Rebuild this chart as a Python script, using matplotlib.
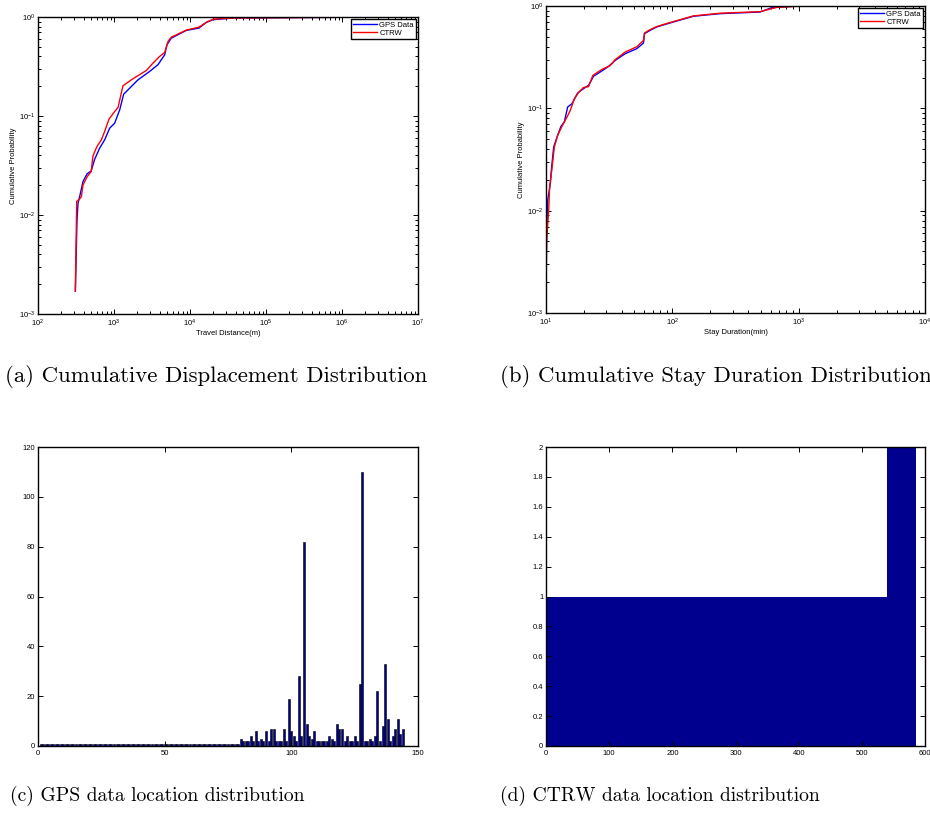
import numpy as np
import matplotlib
matplotlib.use('Agg')
import matplotlib.pyplot as plt
from matplotlib.ticker import FuncFormatter, MultipleLocator

plt.rcParams['font.family'] = ['Liberation Sans', 'DejaVu Sans']
plt.rcParams['mathtext.default'] = 'regular'

# (a) cumulative displacement distribution
dist_gps_x = [310, 326, 336, 353, 391, 442, 501, 557, 647, 753, 877, 1021, 1189,
              1340, 1607, 2070, 2944, 3793, 4645, 4977, 5675, 8954, 13122, 16406,
              20090, 36813, 3.8e6]
dist_gps_y = [0.0017, 0.0089, 0.0131, 0.0153, 0.0218, 0.026, 0.0279, 0.0366, 0.0473,
              0.0574, 0.0753, 0.0847, 0.1156, 0.166, 0.191, 0.232, 0.282, 0.33, 0.416,
              0.525, 0.612, 0.732, 0.773, 0.883, 0.94, 0.977, 1.0]
dist_ctrw_x = [310, 323, 353, 372, 391, 442, 501, 529, 597, 681, 753, 859, 1021, 1130,
               1312, 1778, 2660, 3258, 3990, 4645, 5140, 5675, 8954, 13122, 16406,
               20090, 36813, 4.0e6]
dist_ctrw_y = [0.0017, 0.0137, 0.0145, 0.0153, 0.0201, 0.0243, 0.0275, 0.0396, 0.0492,
               0.0574, 0.0697, 0.093, 0.111, 0.122, 0.202, 0.238, 0.288, 0.342, 0.4,
               0.438, 0.567, 0.625, 0.738, 0.79, 0.883, 0.95, 0.977, 1.0]

# (b) cumulative stay duration distribution
stay_gps_x = [10, 10.12, 10.31, 10.82, 11.02, 11.5, 12.37, 13.14, 13.96, 14.84, 16.05,
              17.79, 19.84, 21.73, 23.8, 27.7, 31.27, 35.3, 42.35, 52.36, 59.1, 60.2,
              66.7, 75.3, 96.0, 146.8, 238.5, 493.6, 610.6, 962]
stay_gps_y = [0.0016, 0.006, 0.0126, 0.0184, 0.0248, 0.0419, 0.0545, 0.0667, 0.0735,
              0.103, 0.111, 0.141, 0.156, 0.168, 0.206, 0.232, 0.257, 0.294, 0.342,
              0.383, 0.435, 0.537, 0.578, 0.624, 0.683, 0.794, 0.842, 0.873, 0.962, 1.0]
stay_ctrw_x = [10, 10.12, 10.5, 10.69, 11.15, 11.64, 12.37, 13.38, 14.65, 15.57, 16.75,
               18.12, 19.84, 21.73, 23.51, 27.7, 32.24, 35.3, 42.35, 52.36, 59.1, 60.2,
               66.7, 75.3, 96.0, 146.8, 238.5, 493.6, 668.6, 1086]
stay_ctrw_y = [0.0016, 0.0051, 0.0101, 0.017, 0.0257, 0.0419, 0.0545, 0.0667, 0.082,
               0.0955, 0.124, 0.143, 0.16, 0.163, 0.21, 0.24, 0.262, 0.299, 0.355, 0.4,
               0.461, 0.545, 0.587, 0.63, 0.69, 0.8, 0.85, 0.88, 0.97, 1.0]

# (c) GPS data location counts, locations 1..144 (first 79 all equal 1)
gps_counts = [1] * 79 + [
    3, 2, 2, 2, 4, 2, 6, 2, 3, 2, 6, 2, 7, 7, 2, 2, 2, 7, 2, 19,
    6, 4, 2, 28, 4, 82, 9, 4, 3, 6, 2, 2, 2, 2, 2, 4, 3, 2, 9, 7,
    7, 2, 4, 2, 2, 4, 2, 25, 110, 2, 2, 3, 2, 4, 22, 2, 8, 33, 11, 2,
    4, 7, 11, 5, 7]
gps_loc = np.arange(1, len(gps_counts) + 1)

# (d) CTRW data location counts, locations 1..585
ctrw_counts = np.repeat([1, 2], [539, 46])
ctrw_loc = np.arange(1, len(ctrw_counts) + 1)

captions = ['(a) Cumulative Displacement Distribution',
            '(b) Cumulative Stay Duration Distribution',
            '(c) GPS data location distribution',
            '(d) CTRW data location distribution']

navy = '#00008f'
W, H = 930, 823
fig = plt.figure(figsize=(W / 100, H / 100), dpi=100)


def box(l, t, r, b):
    return [l / W, 1 - b / H, (r - l) / W, (b - t) / H]


def style(ax):
    ax.tick_params(which='both', direction='in', top=True, right=True,
                   labelsize=5.5, width=0.7, pad=2)
    ax.tick_params(axis='x', pad=3)
    ax.tick_params(which='major', length=3.5)
    ax.tick_params(which='minor', length=2)
    for s in ax.spines.values():
        s.set_linewidth(1.0)


def legend(ax):
    leg = ax.legend(loc='upper right', fontsize=5.5, fancybox=False, framealpha=1,
                    edgecolor='black', handlelength=3.2, borderpad=0.25,
                    labelspacing=0.15, handletextpad=0.3, borderaxespad=0.3)
    leg.get_frame().set_linewidth(1.0)


ax1 = fig.add_axes(box(38, 17, 418, 314))
ax1.loglog(dist_gps_x, dist_gps_y, color='blue', lw=1, label='GPS Data')
ax1.loglog(dist_ctrw_x, dist_ctrw_y, color='red', lw=1, label='CTRW')
ax1.set_xlim(1e2, 1e7)
ax1.set_ylim(1e-3, 1)
ax1.set_xlabel('Travel Distance(m)', fontsize=5.5, labelpad=0.5)
ax1.set_ylabel('Cumulative Probability', fontsize=5.5, labelpad=1.5)
style(ax1)
legend(ax1)

ax2 = fig.add_axes(box(546, 6, 925, 313))
ax2.loglog(stay_gps_x, stay_gps_y, color='blue', lw=1, label='GPS Data')
ax2.loglog(stay_ctrw_x, stay_ctrw_y, color='red', lw=1, label='CTRW')
ax2.set_xlim(1e1, 1e4)
ax2.set_ylim(1e-3, 1)
ax2.set_xlabel('Stay Duration(min)', fontsize=5.5, labelpad=0.5)
ax2.set_ylabel('Cumulative Probability', fontsize=5.5, labelpad=1.5)
style(ax2)
legend(ax2)

ax3 = fig.add_axes(box(38, 447, 418, 746))
ax3.bar(gps_loc, gps_counts, width=0.8, color=navy, edgecolor='black', linewidth=0.4)
ax3.set_xlim(0, 150)
ax3.set_ylim(0, 120)
ax3.xaxis.set_major_locator(MultipleLocator(50))
ax3.yaxis.set_major_locator(MultipleLocator(20))
style(ax3)

ax4 = fig.add_axes(box(546, 447, 925, 746))
ax4.bar(ctrw_loc, ctrw_counts, width=1.0, color=navy, linewidth=0)
ax4.set_xlim(0, 600)
ax4.set_ylim(0, 2)
ax4.xaxis.set_major_locator(MultipleLocator(100))
ax4.yaxis.set_major_locator(MultipleLocator(0.2))
ax4.yaxis.set_major_formatter(FuncFormatter(lambda v, p: f'{v:g}'))
style(ax4)

top_kw = dict(fontsize=16.4, family='cmr10', va='center')
bot_kw = dict(fontsize=14.1, family='cmr10', va='center')
fig.text(216 / W, 1 - 376 / H, captions[0], ha='center', **top_kw)
fig.text(500 / W, 1 - 376 / H, captions[1], ha='left', **top_kw)
fig.text(157 / W, 1 - 796 / H, captions[2], ha='center', **bot_kw)
fig.text(660 / W, 1 - 796 / H, captions[3], ha='center', **bot_kw)

fig.savefig('out.png', dpi=100)
